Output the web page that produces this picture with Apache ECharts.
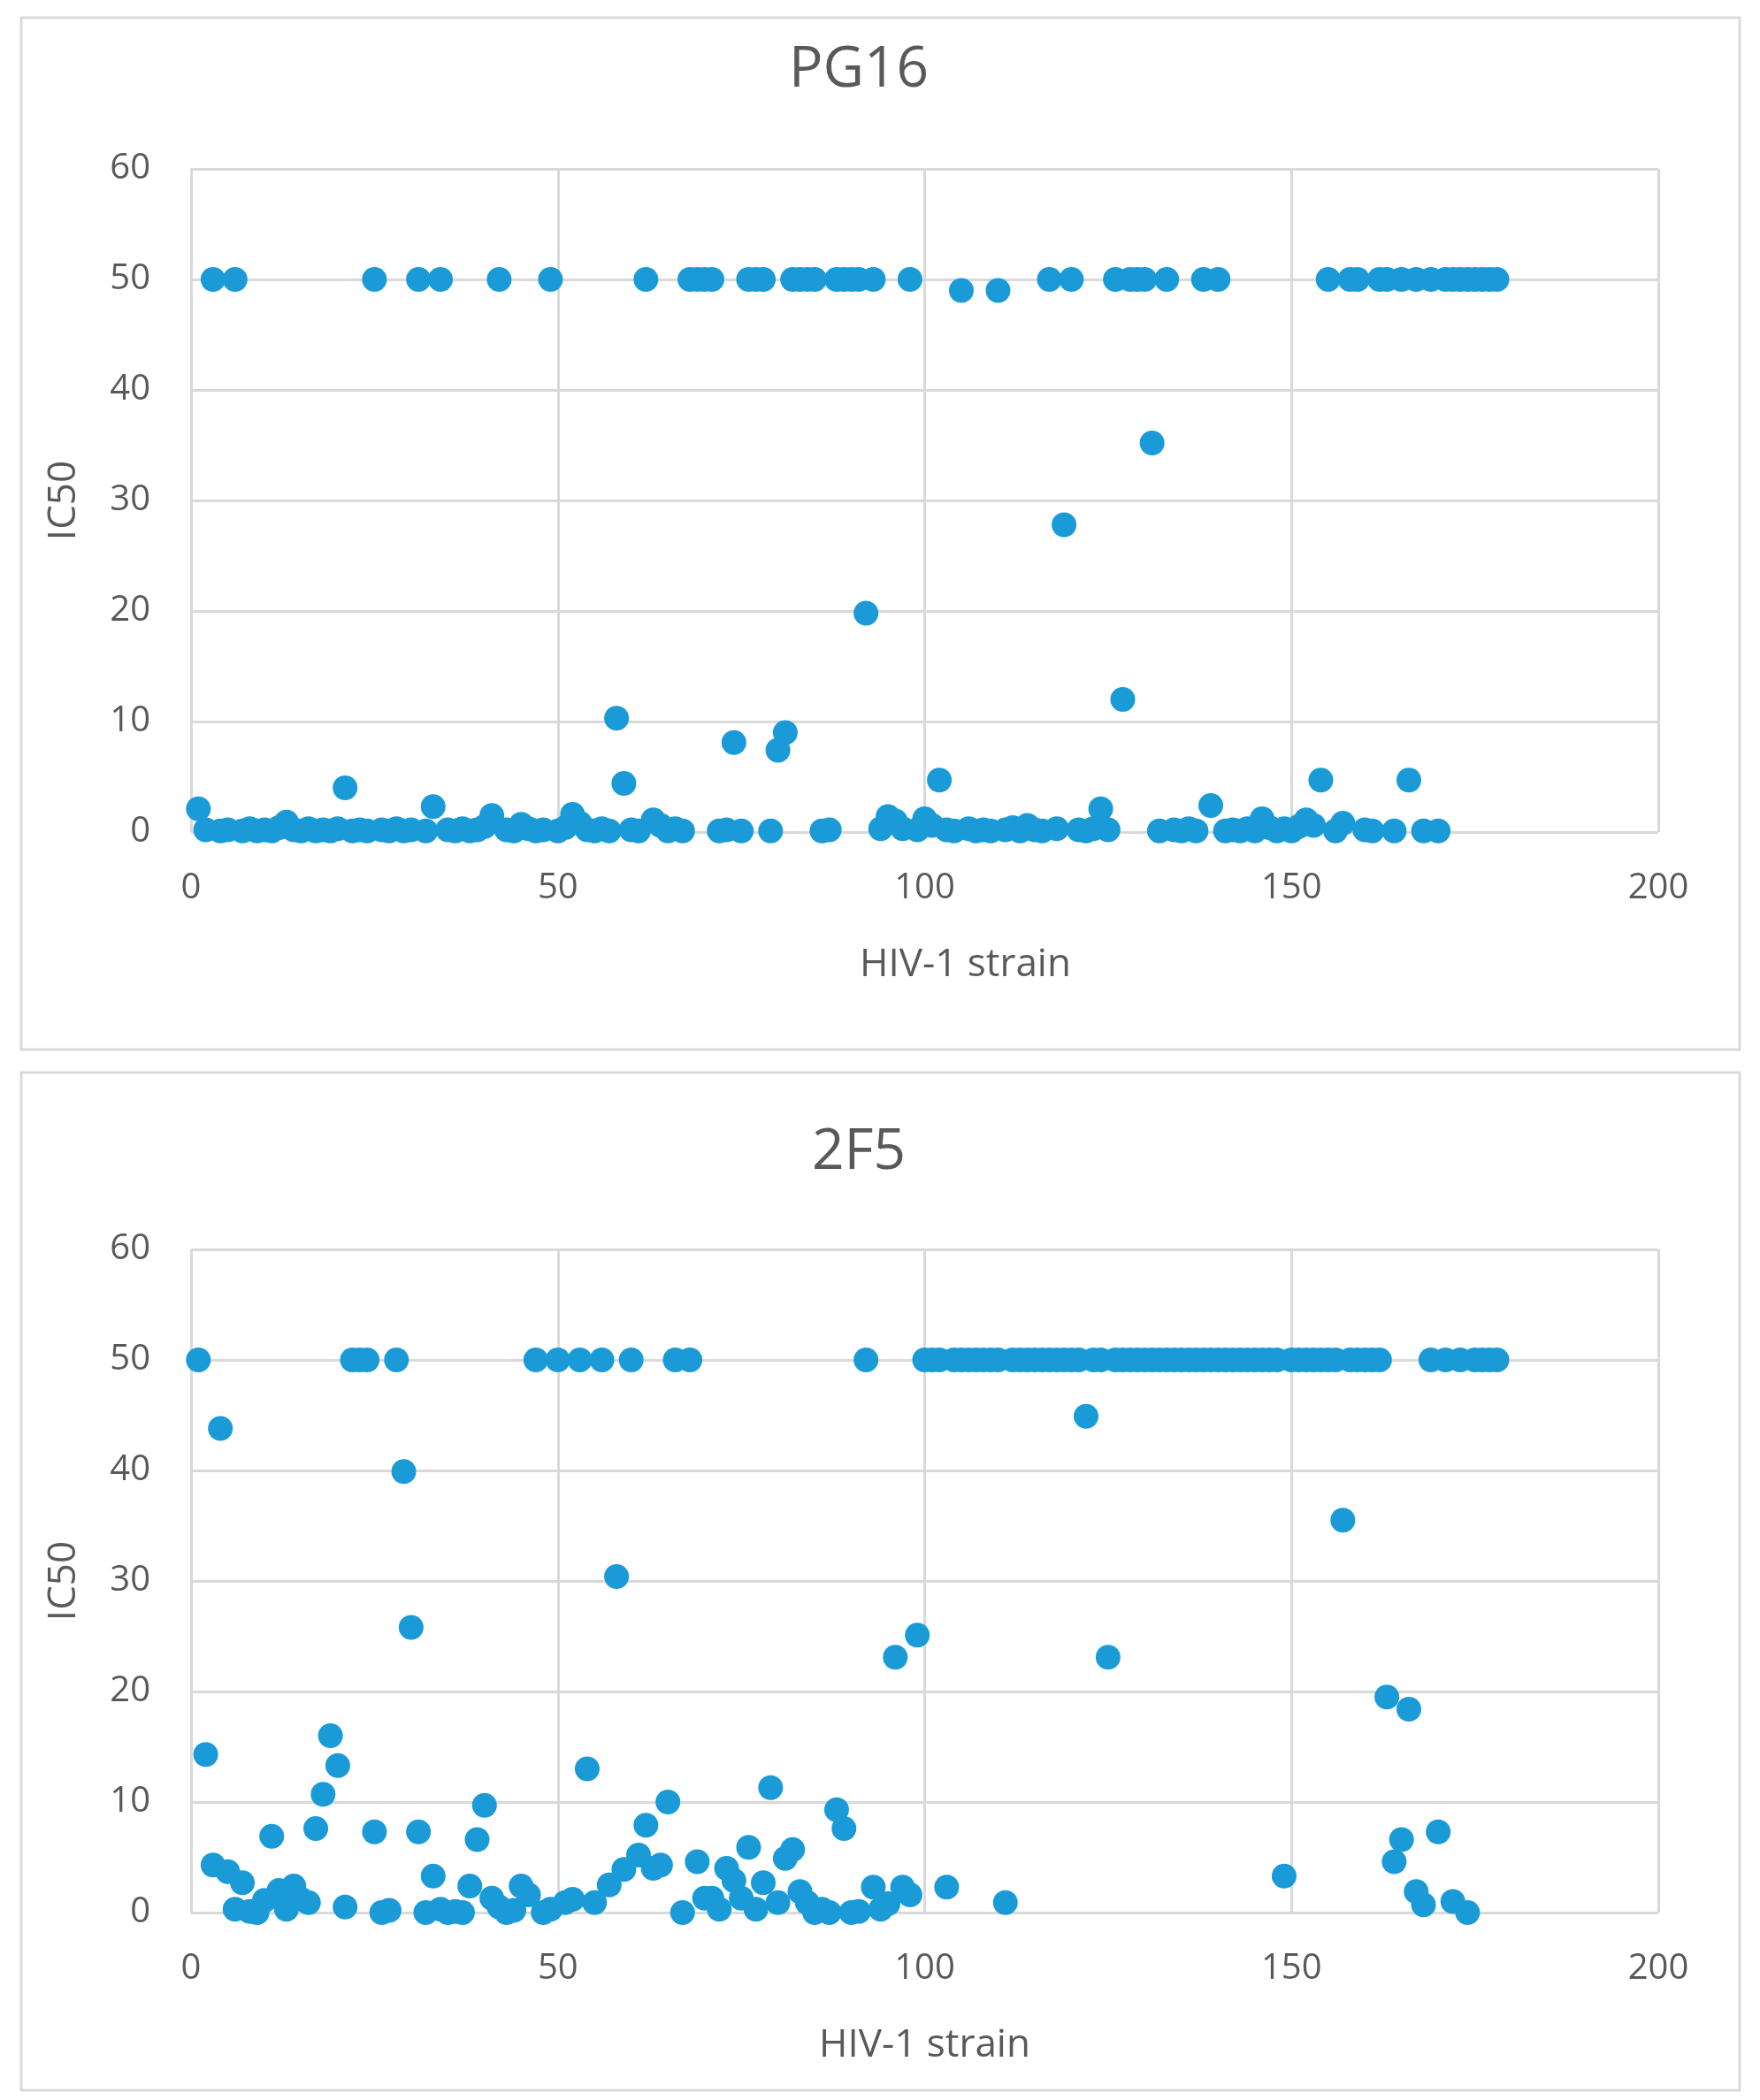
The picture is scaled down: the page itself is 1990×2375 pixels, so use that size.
<!DOCTYPE html>
<html>
<head>
<meta charset="utf-8">
<title>PG16 / 2F5 IC50</title>
<script src="https://cdn.jsdelivr.net/npm/echarts@6/dist/echarts.min.js"></script>
<style>
  html, body { margin: 0; padding: 0; background: #fff; }
  #main { width: 1990px; height: 2375px; }
</style>
</head>
<body>
<div id="main"></div>
<script>
// IC50 per HIV-1 strain (strain number = position in the list, starting at 1)
var pg16IC50 = [
  2.1, 0.2, 50, 0.1, 0.2, 50, 0.1, 0.3, 0.1, 0.2,
  0.1, 0.4, 0.9, 0.2, 0.1, 0.3, 0.1, 0.2, 0.1, 0.3,
  4.0, 0.1, 0.2, 0.1, 50, 0.2, 0.1, 0.3, 0.1, 0.2,
  50, 0.1, 2.3, 50, 0.2, 0.1, 0.3, 0.1, 0.2, 0.5,
  1.5, 50, 0.2, 0.1, 0.7, 0.3, 0.1, 0.2, 50, 0.1,
  0.4, 1.6, 0.8, 0.2, 0.1, 0.3, 0.1, 10.3, 4.4, 0.2,
  0.1, 50, 1.1, 0.6, 0.1, 0.3, 0.1, 50, 50, 50,
  50, 0.1, 0.2, 8.1, 0.1, 50, 50, 50, 0.1, 7.4,
  9.0, 50, 50, 50, 50, 0.1, 0.2, 50, 50, 50,
  50, 19.8, 50, 0.3, 1.4, 1.0, 0.3, 50, 0.2, 1.2,
  0.6, 4.7, 0.2, 0.1, 49, 0.3, 0.1, 0.2, 0.1, 49,
  0.2, 0.4, 0.1, 0.6, 0.2, 0.1, 50, 0.3, 27.8, 50,
  0.2, 0.1, 0.3, 2.1, 0.2, 50, 12.0, 50, 50, 50,
  35.2, 0.1, 50, 0.2, 0.1, 0.3, 0.1, 50, 2.4, 50,
  0.1, 0.2, 0.1, 0.3, 0.1, 1.2, 0.4, 0.1, 0.3, 0.1,
  0.5, 1.1, 0.6, 4.7, 50, 0.1, 0.8, 50, 50, 0.2,
  0.1, 50, 50, 0.1, 50, 4.7, 50, 0.1, 50, 0.1,
  50, 50, 50, 50, 50, 50, 50, 50
];

var f2f5IC50 = [
  50, 14.3, 4.3, 43.8, 3.7, 0.3, 2.7, 0.1, 0.0, 1.1,
  6.9, 2.0, 0.3, 2.4, 1.2, 0.9, 7.6, 10.7, 16.0, 13.3,
  0.5, 50, 50, 50, 7.3, 0.0, 0.2, 50, 39.9, 25.8,
  7.3, 0.0, 3.3, 0.3, 0.0, 0.1, 0.0, 2.4, 6.6, 9.7,
  1.3, 0.5, 0.0, 0.2, 2.4, 1.6, 50, 0.0, 0.3, 50,
  0.9, 1.2, 50, 13.0, 0.9, 50, 2.5, 30.4, 3.9, 50,
  5.2, 7.9, 4.0, 4.3, 10.0, 50, 0.0, 50, 4.6, 1.3,
  1.3, 0.3, 4.0, 2.9, 1.3, 5.9, 0.3, 2.7, 11.3, 0.9,
  4.9, 5.7, 1.9, 0.9, 0.0, 0.3, 0.0, 9.3, 7.6, 0.0,
  0.1, 50, 2.3, 0.3, 0.8, 23.1, 2.3, 1.6, 25.1, 50,
  50, 50, 2.3, 50, 50, 50, 50, 50, 50, 50,
  0.9, 50, 50, 50, 50, 50, 50, 50, 50, 50,
  50, 44.9, 50, 50, 23.1, 50, 50, 50, 50, 50,
  50, 50, 50, 50, 50, 50, 50, 50, 50, 50,
  50, 50, 50, 50, 50, 50, 50, 50, 3.3, 50,
  50, 50, 50, 50, 50, 50, 35.5, 50, 50, 50,
  50, 50, 19.5, 4.6, 6.6, 18.4, 1.9, 0.7, 50, 7.3,
  50, 1.0, 50, 0.0, 50, 50, 50, 50
];

var chartTitles = ['PG16', '2F5'];
var xName = 'HIV-1 strain';
var yName = 'IC50';

var textColor = '#595959';
var gridColor = '#d9d9d9';
var dotColor = '#1a9bd7';
var font = 'Open Sans';

function toPoints(values) {
  return values.map(function (v, i) { return [i + 1, v]; });
}

function xAxisFor(idx, namePad) {
  return {
    type: 'value', gridIndex: idx, min: 0, max: 200, interval: 50,
    name: xName, nameLocation: 'middle', nameGap: 128,
    nameTextStyle: { color: textColor, fontSize: 44, fontFamily: font, padding: namePad },
    axisLine: { show: false }, axisTick: { show: false },
    axisLabel: { color: textColor, fontSize: 40, fontFamily: font, margin: 44 },
    splitLine: { show: true, lineStyle: { color: gridColor, width: 3 } }
  };
}

function yAxisFor(idx) {
  return {
    type: 'value', gridIndex: idx, min: 0, max: 60, interval: 10,
    name: yName, nameLocation: 'middle', nameGap: 122,
    nameTextStyle: { color: textColor, fontSize: 44, fontFamily: font },
    axisLine: { show: false }, axisTick: { show: false },
    axisLabel: { color: textColor, fontSize: 40, fontFamily: font, margin: 46 },
    splitLine: { show: true, lineStyle: { color: gridColor, width: 3 } }
  };
}

var myChart = echarts.init(document.getElementById('main'));
myChart.setOption({
  backgroundColor: '#fff',
  animation: false,
  title: [
    { text: chartTitles[0], left: 966, top: 43, textAlign: 'center',
      textStyle: { color: textColor, fontSize: 64, fontWeight: 'normal', fontFamily: font } },
    { text: chartTitles[1], left: 966, top: 1267, textAlign: 'center',
      textStyle: { color: textColor, fontSize: 64, fontWeight: 'normal', fontFamily: font } }
  ],
  graphic: [
    { type: 'rect', silent: true, z: -10,
      shape: { x: 24, y: 20, width: 1943, height: 1167 },
      style: { fill: 'none', stroke: gridColor, lineWidth: 3 } },
    { type: 'rect', silent: true, z: -10,
      shape: { x: 24, y: 1213, width: 1943, height: 1151 },
      style: { fill: 'none', stroke: gridColor, lineWidth: 3 } }
  ],
  grid: [
    { left: 216, top: 191, width: 1659, height: 750 },
    { left: 216, top: 1413, width: 1659, height: 750 }
  ],
  xAxis: [xAxisFor(0, [0, 0, 0, 92]), xAxisFor(1, [0, 0, 0, 0])],
  yAxis: [yAxisFor(0), yAxisFor(1)],
  series: [
    { name: chartTitles[0], type: 'scatter', xAxisIndex: 0, yAxisIndex: 0,
      symbolSize: 28, itemStyle: { color: dotColor, opacity: 1 },
      data: toPoints(pg16IC50) },
    { name: chartTitles[1], type: 'scatter', xAxisIndex: 1, yAxisIndex: 1,
      symbolSize: 28, itemStyle: { color: dotColor, opacity: 1 },
      data: toPoints(f2f5IC50) }
  ]
});
</script>
</body>
</html>
